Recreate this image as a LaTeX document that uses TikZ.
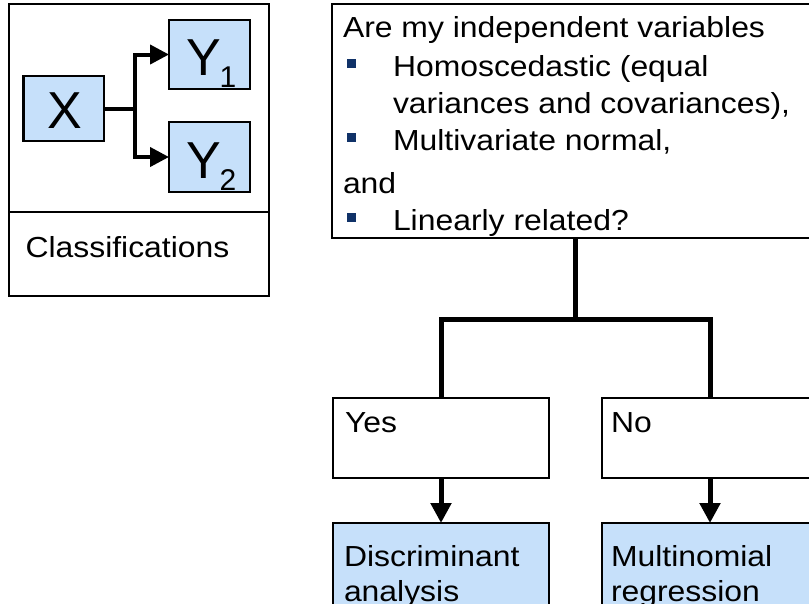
\documentclass[tikz,border=0pt]{standalone}
\usepackage{fontspec}
\setmainfont{Liberation Sans}[FakeStretch=1.1]
\newfontfamily\letterfont{Liberation Sans}
\usetikzlibrary{arrows.meta}
\definecolor{paleblue}{RGB}{198,224,250}
\definecolor{navy}{RGB}{16,50,104}
\begin{document}
\begin{tikzpicture}[x=1pt,y=-1pt,
  box/.style={rectangle,draw=black,line width=2.5pt,inner sep=0pt,outer sep=0pt},
  shaded/.style={box,fill=paleblue},
  body text/.style={anchor=base west,inner sep=0pt,outer sep=0pt,font=\fontsize{29}{35}\selectfont},
  big letter/.style={anchor=base west,inner sep=0pt,outer sep=0pt,font=\letterfont\fontsize{52}{52}\selectfont},
  bulletmark/.style={rectangle,fill=navy,inner sep=0pt,outer sep=0pt,minimum size=9pt},
  thin link/.style={line width=4pt},
  thick link/.style={line width=5pt},
  small head/.style={-{Triangle[length=19pt,width=19pt]}},
  big head/.style={-{Triangle[length=20pt,width=20pt]}}
]
\useasboundingbox (0,0) rectangle (809,603);
\clip (0,0) rectangle (809,603);

% --- left panel: X -> Y1, Y2 with its caption ---
\node[box,minimum width=260pt,minimum height=208pt] (panel) at (139,108) {};
\node[box,minimum width=260pt,minimum height=84pt] (caption) at (139,254) {};
\node[shaded,minimum width=80.5pt,minimum height=65pt] (x) at (63.75,108.5) {};
\node[shaded,minimum width=81pt,minimum height=69pt] (y1) at (209.5,54.5) {};
\node[shaded,minimum width=81pt,minimum height=70pt] (y2) at (209.5,157) {};

\node[big letter] (xlbl) at (47.5,128) {X};
\node[big letter] (y1lbl) at (186,75) {Y\kern-1pt\raisebox{-12pt}{\fontsize{30}{30}\selectfont 1}};
\node[big letter] (y2lbl) at (186,178) {Y\kern-1pt\raisebox{-12pt}{\fontsize{30}{30}\selectfont 2}};
\node[body text] (cls) at (25.5,257) {Classifications};

\coordinate (branch) at (135,108.5);
\draw[thin link] (x.east) -- (branch);
\draw[thin link,small head] (branch) |- (y1.west);
\draw[thin link,small head] (branch) |- (y2.west);

% --- decision tree ---
\node[box,minimum width=487pt,minimum height=234pt] (question) at (575.5,121) {};
\node[body text] (q0) at (343,37) {Are my independent variables};
\node[bulletmark] (b1) at (351.2,63.5) {};
\node[body text] (q1) at (393,76) {Homoscedastic (equal};
\node[body text] (q2) at (393,113) {variances and covariances),};
\node[bulletmark] (b2) at (351.2,137.5) {};
\node[body text] (q3) at (393,150) {Multivariate normal,};
\node[body text] (q4) at (343,193) {and};
\node[bulletmark] (b3) at (351.2,217.5) {};
\node[body text] (q5) at (393,230) {Linearly related?};

\node[box,minimum width=216pt,minimum height=80pt] (yes) at (441,438) {};
\node[box,minimum width=216pt,minimum height=80pt] (no) at (710,438) {};
\node[shaded,minimum width=216pt,minimum height=117pt] (da) at (441,581.5) {};
\node[shaded,minimum width=216pt,minimum height=117pt] (mr) at (710,581.5) {};

\node[body text] (yeslbl) at (345,432) {Yes};
\node[body text] (nolbl) at (611,432) {No};
\node[body text] (da1) at (344,566) {Discriminant};
\node[body text] (da2) at (344,601) {analysis};
\node[body text] (mr1) at (611,566) {Multinomial};
\node[body text] (mr2) at (611,601) {regression};

\coordinate (fork) at (575.5,319.5);
\draw[thick link] (question.south) -- (fork);
\draw[thick link] (yes.north) |- (fork) -| (no.north);
\draw[thick link,big head] (yes.south) -- (da.north);
\draw[thick link,big head] (no.south) -- (mr.north);
\end{tikzpicture}
\end{document}
